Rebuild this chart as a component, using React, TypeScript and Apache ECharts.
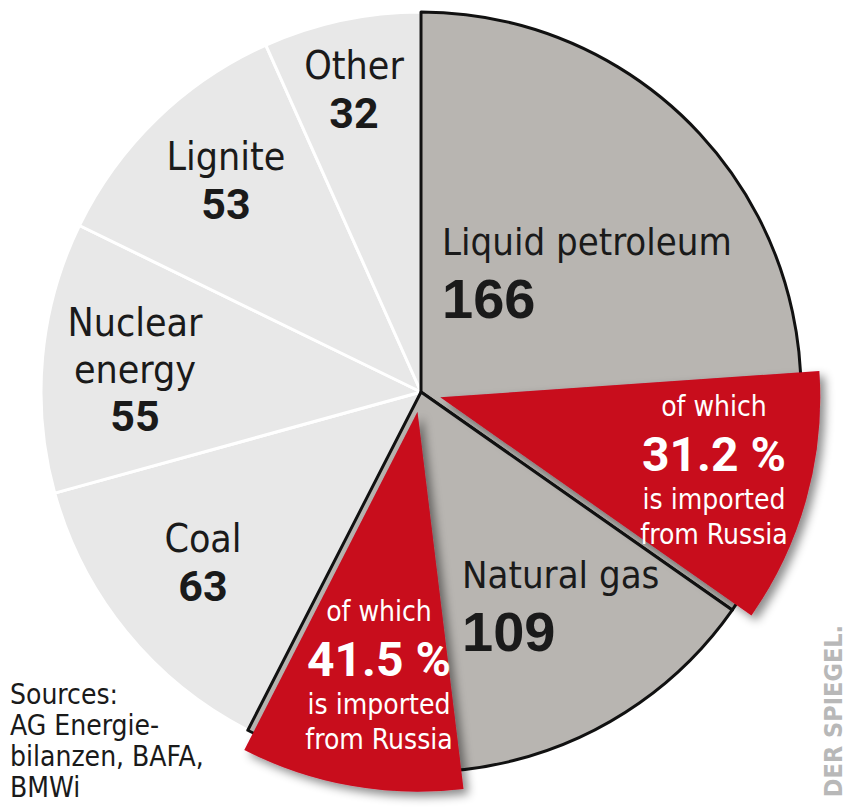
import React, { useEffect, useRef } from 'react';
import * as echarts from 'echarts';

// ---------- data ----------
const SOURCES = ['Liquid petroleum', 'Natural gas', 'Coal', 'Nuclear energy', 'Lignite', 'Other'];
const LABEL_TEXT = ['Liquid petroleum', 'Natural gas', 'Coal', 'Nuclear\nenergy', 'Lignite', 'Other'];
const VALUES = [166, 109, 63, 55, 53, 32];
const RUSSIA_SHARE = [31.2, 41.5, 0, 0, 0, 0]; // % imported from Russia
const MAJOR = [true, true, false, false, false, false];
const SOURCE_NOTE = ['Sources:', 'AG Energie-', 'bilanzen, BAFA,', 'BMWi'];
const CREDIT = 'DER SPIEGEL.';

// ---------- style ----------
const CX = 421;
const CY = 392;
const R = 380;
const OFFSET = 20;
const LIGHT = '#e8e8e8';
const DARK = '#b8b5b1';
const RED = '#c8081e';
const INK = '#1a1a1a';
const COND = "'DejaVu Sans Condensed', 'DejaVu Sans', sans-serif";
const NUM = "Roboto, 'Liberation Sans', Arial, sans-serif";
const REG = "'Liberation Sans', Arial, Roboto, sans-serif";

// label anchors [x, y, align] by source index
const MINOR_ANCHOR: Record<number, [number, number, string]> = {
  2: [203, 562, 'center'],
  3: [135, 369, 'center'],
  4: [226, 180, 'center'],
  5: [354, 89, 'center'],
};
const MAJOR_ANCHOR: Record<number, [number, number, string]> = {
  0: [442, 273, 'left'],
  1: [462, 606, 'left'],
};
const RED_ANCHOR: Record<number, [number, number, string]> = {
  0: [714, 468, 'center'],
  1: [379, 673, 'center'],
};

const hidden = { color: 'transparent', borderWidth: 0 };

export default function App() {
  const ref = useRef<HTMLDivElement>(null);

  useEffect(() => {
    if (!ref.current) return;
    const chart = echarts.init(ref.current, null, { renderer: 'svg' });

    const minorData = SOURCES.map((name, i) => ({
      name,
      value: VALUES[i],
      itemStyle: MAJOR[i] ? hidden : { color: LIGHT, borderColor: '#ffffff', borderWidth: 3 },
      label: MAJOR[i]
        ? { show: false }
        : { show: true, formatter: `{n|${LABEL_TEXT[i].replace('\n', '}\n{n|')}}\n{v|${VALUES[i]}}` },
    }));
    const minorAnchors = SOURCES.map((_, i) => MINOR_ANCHOR[i]);

    const majorData = SOURCES.map((name, i) => ({
      name,
      value: VALUES[i],
      itemStyle: MAJOR[i] ? { color: DARK, borderColor: '#111111', borderWidth: 3, borderJoin: 'round' } : hidden,
      label: MAJOR[i]
        ? { show: true, formatter: `{n|${LABEL_TEXT[i]}}\n{v|${VALUES[i]}}` }
        : { show: false },
    }));
    const majorAnchors = SOURCES.map((_, i) => MAJOR_ANCHOR[i]);

    // red pieces (exploded) and a twin transparent series carrying their labels
    const redData: any[] = [];
    const redLabelData: any[] = [];
    const redAnchors: any[] = [];
    SOURCES.forEach((name, i) => {
      const share = RUSSIA_SHARE[i];
      if (share > 0) {
        const part = (VALUES[i] * share) / 100;
        redData.push({ name: name + ' (rest)', value: VALUES[i] - part, itemStyle: hidden });
        redLabelData.push({ name: name + ' (rest)', value: VALUES[i] - part, itemStyle: hidden, label: { show: false } });
        redAnchors.push(undefined);
        redData.push({
          name: name + ' from Russia',
          value: part,
          selected: true,
          itemStyle: {
            color: RED,
            borderWidth: 0,
            shadowBlur: 10,
            shadowColor: 'rgba(0,0,0,0.45)',
            shadowOffsetX: 5,
            shadowOffsetY: 5,
          },
        });
        redLabelData.push({
          name: name + ' from Russia',
          value: part,
          itemStyle: hidden,
          label: {
            show: true,
            formatter: `{a|of which}\n{p|${share.toFixed(1)} %}\n{b|is imported}\n{b|from Russia}`,
          },
        });
        redAnchors.push(RED_ANCHOR[i]);
      } else {
        redData.push({ name, value: VALUES[i], itemStyle: hidden });
        redLabelData.push({ name, value: VALUES[i], itemStyle: hidden, label: { show: false } });
        redAnchors.push(undefined);
      }
    });

    const layoutFrom = (anchors: any[]) => (params: any) => {
      const a = anchors[params.dataIndex];
      if (!a) return {};
      return { x: a[0], y: a[1], align: a[2], verticalAlign: 'middle' };
    };

    const base = {
      type: 'pie',
      center: [CX, CY],
      radius: R,
      startAngle: 90,
      clockwise: true,
      avoidLabelOverlap: false,
      silent: true,
      emphasis: { disabled: true },
      labelLine: { show: false },
    };

    chart.setOption({
      animation: false,
      series: [
        {
          ...base,
          z: 1,
          data: minorData,
          label: {
            position: 'inside',
            rich: {
              n: { fontFamily: COND, fontSize: 39, lineHeight: 47, color: INK },
              v: { fontFamily: NUM, fontSize: 43, fontWeight: 'bold', lineHeight: 47, color: INK },
            },
          },
          labelLayout: layoutFrom(minorAnchors),
        },
        {
          ...base,
          z: 2,
          data: majorData,
          label: {
            position: 'inside',
            rich: {
              n: { fontFamily: COND, fontSize: 38, lineHeight: 50, color: INK },
              v: { fontFamily: REG, fontSize: 56, fontWeight: 'bold', lineHeight: 62, color: INK },
            },
          },
          labelLayout: layoutFrom(majorAnchors),
        },
        {
          ...base,
          z: 3,
          selectedMode: 'multiple',
          selectedOffset: OFFSET,
          select: { itemStyle: { color: RED } },
          data: redData,
          label: { show: false },
        },
        {
          ...base,
          z: 4,
          data: redLabelData,
          label: {
            position: 'inside',
            rich: {
              a: { fontFamily: COND, fontSize: 28, lineHeight: 43, color: '#ffffff' },
              p: { fontFamily: NUM, fontSize: 48, fontWeight: 'bold', lineHeight: 54, color: '#ffffff' },
              b: { fontFamily: COND, fontSize: 28, lineHeight: 35, color: '#ffffff' },
            },
          },
          labelLayout: layoutFrom(redAnchors),
        },
      ],
      graphic: [
        {
          type: 'text',
          x: 10,
          y: 679,
          style: {
            text: SOURCE_NOTE.join('\n'),
            font: `28px ${COND}`,
            lineHeight: 31,
            fill: INK,
            align: 'left',
            verticalAlign: 'top',
          },
        },
        {
          type: 'text',
          x: 833,
          y: 711,
          rotation: Math.PI / 2,
          style: {
            text: CREDIT,
            font: `bold 25px ${COND}`,
            fill: '#b8b8b8',
            align: 'center',
            verticalAlign: 'middle',
          },
        },
      ],
    });

    return () => chart.dispose();
  }, []);

  return (
    <div
      ref={ref}
      style={{ position: 'absolute', left: 0, top: 0, width: 846, height: 809, background: '#ffffff' }}
    />
  );
}
